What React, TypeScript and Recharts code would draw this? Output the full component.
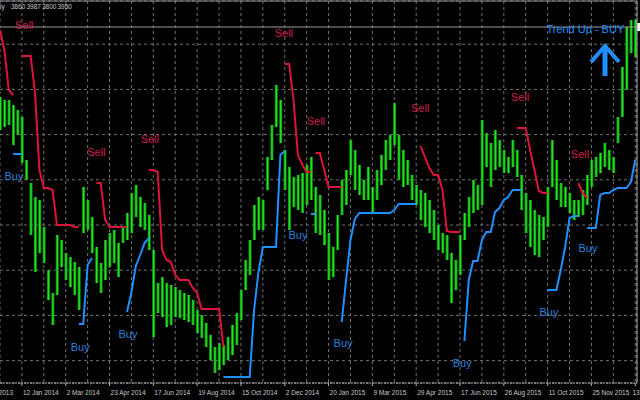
import {
  Bar,
  CartesianGrid,
  ComposedChart,
  Line,
  ReferenceDot,
  ReferenceLine,
  XAxis,
  YAxis,
} from "recharts";

const highs = [
  3600, 3585, 3585, 3560, 3535, 3500, 3285, 3170, 3100, 3085,
  2950, 2735, 2620, 2910, 2885, 2820, 2800, 2775, 2750, 3150,
  3085, 3000, 2850, 2770, 2885, 2920, 2935, 2870, 2950, 3020,
  3120, 3160, 3100, 3070, 3010, 2835, 2670, 2700, 2670, 2660,
  2650, 2635, 2620, 2610, 2585, 2535, 2510, 2470, 2410, 2350,
  2370, 2360, 2400, 2460, 2520, 2635, 2785, 2885, 3060, 3100,
  3085, 3300, 3460, 3660, 3585, 3335, 3250, 3200, 3210, 3220,
  3260, 3300, 3150, 3110, 3035, 2920, 2850, 3010, 3185, 3235,
  3385, 3335, 3260, 3185, 3250, 3150, 3235, 3310, 3385, 3410,
  3570, 3410, 3335, 3285, 3210, 3160, 3135, 3120, 3085, 3035,
  2960, 2920, 2910, 2820, 2785, 2910, 3020, 3100, 3185, 3160,
  3485, 3420, 3370, 3435, 3385, 3335, 3300, 3385, 3335, 3210,
  3120, 3085, 3035, 3010, 3000, 3150, 3385, 3285, 3170, 3150,
  3120, 3085, 3085, 3135, 3210, 3285, 3300, 3320, 3370, 3335,
  3300, 3500, 3750, 3950, 3985, 3987,
];
const lows = [
  3435, 3450, 3460, 3360, 3410, 3270, 3185, 2910, 2725, 2820,
  2770, 2585, 2460, 2610, 2750, 2685, 2650, 2610, 2535, 2920,
  2935, 2820, 2670, 2620, 2685, 2750, 2770, 2700, 2870, 2885,
  2920, 3000, 2950, 2935, 2835, 2400, 2520, 2500, 2450, 2460,
  2500, 2495, 2485, 2475, 2460, 2420, 2395, 2350, 2285, 2220,
  2235, 2260, 2285, 2310, 2360, 2485, 2635, 2710, 2885, 2935,
  2935, 3135, 3285, 3450, 3370, 3135, 2935, 3050, 3035, 3020,
  3060, 3085, 2920, 2910, 2860, 2685, 2700, 2835, 3010, 3060,
  3210, 3135, 3110, 3085, 3085, 3020, 3085, 3160, 3235, 3285,
  3360, 3185, 3150, 3160, 3085, 3060, 2985, 2950, 2920, 2885,
  2835, 2820, 2785, 2570, 2635, 2710, 2885, 2950, 3020, 3035,
  3060, 3250, 3150, 3235, 3250, 3220, 3220, 3250, 3200, 3035,
  2920, 2850, 2810, 2800, 2885, 2950, 3150, 3085, 3050, 3050,
  3020, 2985, 3000, 3010, 3060, 3150, 3200, 3220, 3250, 3235,
  3220, 3370, 3500, 3635, 3820, 3800,
];

// Trailing stop segments: first bar index + stop level per bar.
type Segment = { from: number; values: number[] };
const sellStops: Segment[] = [
  { from: 0, values: [3935, 3835, 3635, 3610] },
  { from: 5, values: [3805, 3805, 3805, 3620, 3235, 3145, 3145, 3135, 2960, 2960, 2960, 2960, 2950, 2950] },
  { from: 22, values: [3170, 3170, 2985, 2950, 2950, 2950, 2950, 2950] },
  { from: 34, values: [3235, 3235, 3225, 2835, 2785, 2775, 2710, 2685, 2685, 2685, 2645, 2620, 2540, 2540, 2540, 2540, 2540, 2350] },
  { from: 65, values: [3765, 3765, 3585, 3310, 3260, 3225, 3225] },
  { from: 72, values: [3320, 3320, 3235, 3150, 3150, 3150, 3150] },
  { from: 96, values: [3355, 3300, 3245, 3210, 3210, 3135, 2930, 2925, 2925, 2925] },
  { from: 118, values: [3445, 3445, 3445, 3335, 3235, 3130, 3120, 3120] },
  { from: 132, values: [3170, 3120, 3095] },
];
const buyStops: Segment[] = [
  { from: 3, values: [3315, 3315, 3315] },
  { from: 18, values: [2465, 2465, 2760, 2795] },
  { from: 29, values: [2525, 2625, 2755, 2810, 2870, 2895] },
  { from: 51, values: [2200, 2200, 2200, 2200, 2200, 2200, 2200, 2535, 2725, 2850, 2850, 2850, 2850, 3310, 3330] },
  { from: 71, values: [3015, 3015] },
  { from: 78, values: [2475, 2685, 2885, 2990, 3020, 3020, 3020, 3020, 3020, 3020, 3020, 3020, 3035, 3065, 3065, 3065, 3065, 3065] },
  { from: 106, values: [2380, 2685, 2780, 2780, 2885, 2925, 2925, 3025, 3045, 3085, 3100, 3135, 3135, 3135] },
  { from: 125, values: [2635, 2635, 2635, 2735, 2850, 2995, 3005, 3005] },
  { from: 134, values: [2945, 2945, 2945, 3110, 3120, 3120, 3135, 3145, 3145, 3145, 3175, 3285] },
];

// Signal tags (bar index, price)
const sellTags = [
  { i: 5.5, p: 3960 }, { i: 22, p: 3325 }, { i: 34.2, p: 3390 }, { i: 64.8, p: 3920 },
  { i: 72.1, p: 3480 }, { i: 95.9, p: 3545 }, { i: 118.7, p: 3600 }, { i: 132.4, p: 3315 },
];
const buyTags = [
  { i: 3.2, p: 3205 }, { i: 18.3, p: 2350 }, { i: 29.2, p: 2415 }, { i: 68, p: 2910 },
  { i: 78.3, p: 2370 }, { i: 105.5, p: 2270 }, { i: 125.3, p: 2525 }, { i: 134.2, p: 2845 },
];
const trendText = { i: 133.6, p: 3940, label: "Trend Up - BUY" };
const trendArrow = { i: 138.1, p: 3860 };

const lastBar = [3860, 3987, 3800, 3950]; // open high low close
const bidPrice = 3950;

const gridSteps = [
  -5, 5, 10, 15, 20, 25, 30, 35, 40, 45, 50, 55, 60, 65, 70, 75,
  80, 85, 90, 95, 100, 105, 110, 115, 120, 125, 130, 135, 140, 145,
];
const dateLabels = [
  "2013", "12 Jan 2014", "2 Mar 2014", "23 Apr 2014", "17 Jun 2014",
  "19 Aug 2014", "15 Oct 2014", "2 Dec 2014", "20 Jan 2015", "9 Mar 2015",
  "29 Apr 2015", "17 Jun 2015", "26 Aug 2015", "11 Oct 2015", "25 Nov 2015",
  "13",
];
const gridPrices = [
  3977, 3864, 3751, 3638, 3525, 3412, 3299, 3186,
  3073, 2960, 2847, 2734, 2621, 2508, 2395, 2282,
];

const rows = highs.map((h, i) => {
  const row: Record<string, unknown> = { i, range: [lows[i], h] };
  sellStops.forEach((s, k) => {
    const j = i - s.from;
    row[`sell${k}`] = j >= 0 && j < s.values.length ? s.values[j] : null;
  });
  buyStops.forEach((s, k) => {
    const j = i - s.from;
    row[`buy${k}`] = j >= 0 && j < s.values.length ? s.values[j] : null;
  });
  return row;
});

const FONT = "'Liberation Sans', Arial, sans-serif";
const SELL = "#dc143c";
const BUY = "#1e90ff";

function DateTick(props: any) {
  const { x, y, payload } = props;
  const v = payload.value as number;
  if ((v + 5) % 10 !== 0) return <g />;
  const k = (v + 5) / 10;
  // first and last labels sit at the screen edges: pin them inside
  const first = k === 0;
  const last = k === dateLabels.length - 1;
  let tx = x + 1;
  let anchor = "start";
  if (first) { tx = x + 35; anchor = "end"; }
  if (last) { tx = x + 4.5; anchor = "end"; }
  return (
    <g>
      <line x1={x} x2={x} y1={y} y2={y + 3} stroke="#b0b0b0" />
      <text x={tx} y={y + 12} fill="#c8c8c8" fontSize={6.5} fontFamily={FONT} textAnchor={anchor}>
        {dateLabels[k]}
      </text>
    </g>
  );
}

function tag(text: string, color: string) {
  return (p: any) => (
    <text x={p.cx} y={p.cy} fill={color} fontSize={11} fontFamily={FONT} textAnchor="middle" dominantBaseline="central">
      {text}
    </text>
  );
}

// OHLC bar drawn as thin bright stroke over a darker body
function PriceBar(p: any) {
  const { x, y, width, height } = p;
  if (height == null || Number.isNaN(height)) return <g />;
  const cx = x + width / 2;
  return (
    <g>
      <rect x={x} y={y} width={width} height={Math.max(height, 1)} fill="#0b8f0b" />
      <rect x={cx - 0.7} y={y} width={1.4} height={Math.max(height, 1)} fill="#22e022" />
    </g>
  );
}

export default function App() {
  return (
    <div style={{ position: "absolute", left: 0, top: 0, width: 640, height: 400, background: "#000", overflow: "hidden" }}>
      <ComposedChart width={640} height={400} data={rows} margin={{ top: 0, right: 0, bottom: 0, left: 0 }}>
        <CartesianGrid stroke="#707070" strokeDasharray="3 3" />
        <XAxis
          dataKey="i"
          type="number"
          domain={[0, 145.4]}
          ticks={gridSteps}
          interval={0}
          height={17}
          tickSize={0}
          tickMargin={0}
          tickLine={false}
          axisLine={{ stroke: "#b8b8b8", strokeDasharray: "2 1" }}
          tick={<DateTick />}
          allowDataOverflow
        />
        <XAxis xAxisId="top" orientation="top" type="number" domain={[0, 145.4]} height={1} tick={false} axisLine={{ stroke: "#909090" }} />
        <YAxis hide type="number" domain={[2170, 4080]} ticks={gridPrices} allowDataOverflow />
        <YAxis yAxisId="r" orientation="right" type="number" domain={[0, 1]} width={3} tick={false} tickLine={false} axisLine={{ stroke: "#a0a0a0" }} />
        <ReferenceLine
          y={bidPrice}
          stroke="#9a9a9a"
          label={(p: any) => (
            <rect x={p.viewBox.x + p.viewBox.width} y={p.viewBox.y - 4} width={4} height={8} fill="#ffffff" />
          )}
        />
        <Bar dataKey="range" barSize={3} shape={<PriceBar />} isAnimationActive={false} />
        {sellStops.map((_, k) => (
          <Line key={`s${k}`} dataKey={`sell${k}`} stroke={SELL} strokeWidth={2} dot={false} isAnimationActive={false} />
        ))}
        {buyStops.map((_, k) => (
          <Line key={`b${k}`} dataKey={`buy${k}`} stroke={BUY} strokeWidth={2} dot={false} isAnimationActive={false} />
        ))}
        {sellTags.map((t, k) => (
          <ReferenceDot key={`st${k}`} x={t.i} y={t.p} r={0} shape={tag("Sell", "#d01c44")} />
        ))}
        {buyTags.map((t, k) => (
          <ReferenceDot key={`bt${k}`} x={t.i} y={t.p} r={0} shape={tag("Buy", "#2a80dc")} />
        ))}
        <ReferenceDot x={trendText.i} y={trendText.p} r={0} shape={tag(trendText.label, BUY)} />
        <ReferenceDot
          x={trendArrow.i}
          y={trendArrow.p}
          r={0}
          shape={(p: any) => (
            <g stroke={BUY} fill="none" strokeLinecap="butt">
              <polyline points={`${p.cx - 14},${p.cy + 17} ${p.cx},${p.cy + 1} ${p.cx + 14},${p.cy + 17}`} strokeWidth={4} />
              <line x1={p.cx} x2={p.cx} y1={p.cy + 3} y2={p.cy + 31} strokeWidth={5} />
            </g>
          )}
        />
      </ComposedChart>
      <div style={{ position: "absolute", left: 0, top: 3, fontFamily: FONT, fontSize: 6.5, color: "#c8c8c8", lineHeight: "8px" }}>
        <span style={{ position: "absolute", left: 0 }}>ly</span>
        {lastBar.map((v, k) => (
          <span key={k} style={{ position: "absolute", left: 11 + k * 15.5 }}>{v}</span>
        ))}
      </div>
    </div>
  );
}
